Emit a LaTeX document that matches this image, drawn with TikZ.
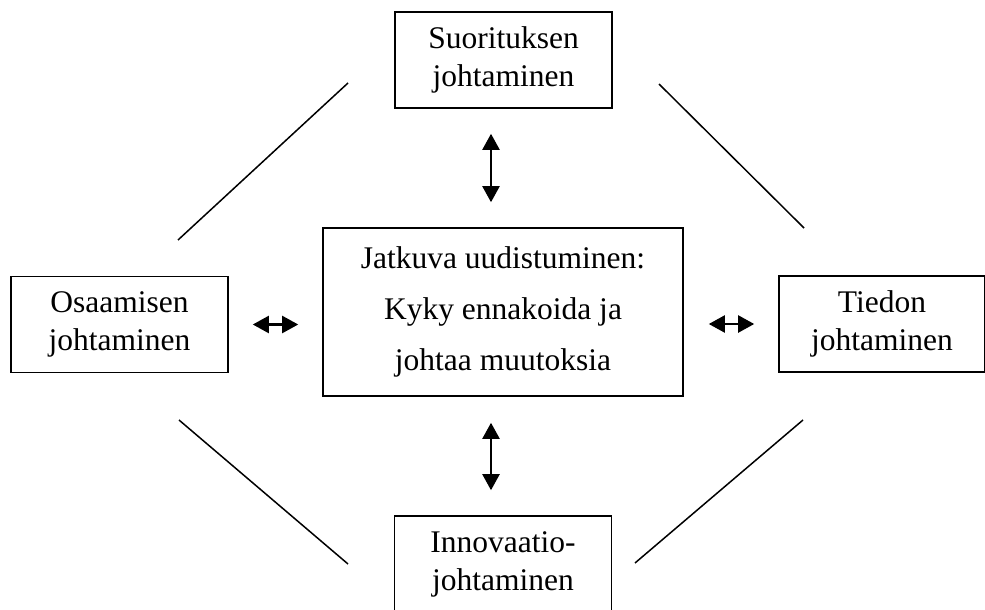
\documentclass[tikz,border=0pt]{standalone}
\usepackage{fontspec}
\setmainfont{Liberation Serif}
\usetikzlibrary{arrows.meta}
\begin{document}
\begin{tikzpicture}[x=1pt,y=-1pt,
  box/.style={draw, line width=1.6pt, minimum width=217pt, minimum height=96pt,
    align=center, inner sep=0pt, font=\fontsize{31.5}{38}\selectfont},
  link/.style={line width=1.5pt},
  both/.style={line width=2.2pt,
    {Triangle[length=16pt,width=17pt]}-{Triangle[length=16pt,width=17pt]}}]
\fill[white] (0,0) rectangle (985,610);
\useasboundingbox (0,0) rectangle (985,610);

% the five boxes
\node[box] (perf) at (503.5,60) {Suorituksen\\johtaminen};
\node[box] (comp) at (119.5,324.5) {Osaamisen\\johtaminen};
\node[box, minimum width=206pt] (know) at (882,324) {Tiedon\\johtaminen};
\node[box] (innov) at (503,564) {Innovaatio-\\johtaminen};
\node[box, minimum width=360pt, minimum height=168pt,
  font=\fontsize{31.5}{51}\selectfont] (core) at (503,312)
  {Jatkuva uudistuminen:\\Kyky ennakoida ja\\johtaa muutoksia};

% two-way arrows between the core and the outer boxes
\draw[both, shorten <=25pt, shorten >=25pt]
  ([xshift=-12.5pt]perf.south) -- ([xshift=-12.5pt]perf.south |- core.north);
\draw[both, shorten <=26pt, shorten >=25pt]
  ([xshift=-12pt]core.south) -- ([xshift=-12pt]core.south |- innov.north);
\draw[both, shorten <=24pt, shorten >=24pt]
  (comp.east) -- (comp.east -| core.west);
\draw[both, shorten <=25pt, shorten >=24pt]
  (core.east |- know.west) -- (know.west);

% diagonal lines framing the diamond
\coordinate (tlA) at (348,83);  \coordinate (tlB) at (178,240);
\coordinate (trA) at (659,84);  \coordinate (trB) at (804,228);
\coordinate (blA) at (179,420); \coordinate (blB) at (348,564);
\coordinate (brA) at (803,420); \coordinate (brB) at (635,563);
\draw[link] (tlA) -- (tlB);
\draw[link] (trA) -- (trB);
\draw[link] (blA) -- (blB);
\draw[link] (brA) -- (brB);
\end{tikzpicture}
\end{document}
